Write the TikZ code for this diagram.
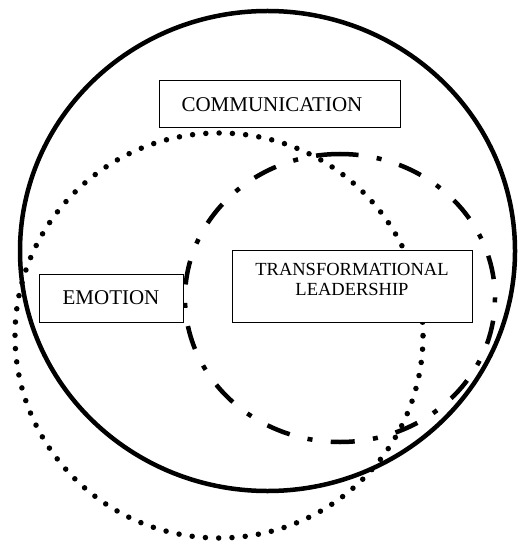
\documentclass[tikz,border=0pt]{standalone}
\usepackage{fontspec}
\setmainfont{Liberation Serif}
\begin{document}
\begin{tikzpicture}[x=1pt,y=-1pt,
  solidring/.style={line width=4.5pt},
  dotring/.style={line width=5.5pt, line cap=round, dash pattern=on 0pt off 13.3pt},
  dashdotring/.style={line width=4.5pt, dash pattern=on 24pt off 18.4pt on 5pt off 18.4pt},
  labelbox/.style={draw, line width=1pt, fill=white, inner sep=0pt},
  bigtext/.style={font=\fontsize{21}{25}\selectfont},
  smalltext/.style={font=\fontsize{18.5}{20}\selectfont}
]
\useasboundingbox (0,0) rectangle (517,545);
\coordinate (solidc) at (267.5,251);
\draw[solidring] (solidc) ellipse [x radius=247.5pt, y radius=240pt];
\coordinate (dotc) at (219,335.5);
\draw[dotring] (dotc) ellipse [x radius=204pt, y radius=202.5pt];
\coordinate (ddtop) at (340,154);
\draw[dashdotring] (ddtop) arc[start angle=90, end angle=450, x radius=155pt, y radius=144pt];
\node[labelbox, bigtext, minimum width=241pt, minimum height=47pt, text width=196pt, align=left, inner xsep=22.5pt] (comm) at (279.5,104.5) {COMMUNICATION};
\node[labelbox, bigtext, minimum width=144pt, minimum height=48pt] (emo) at (111,298) {EMOTION};
\node[labelbox, smalltext, minimum width=240pt, minimum height=72pt, align=center] (tl) at (352,286) {TRANSFORMATIONAL\\LEADERSHIP\\[-6pt]};
\end{tikzpicture}
\end{document}
